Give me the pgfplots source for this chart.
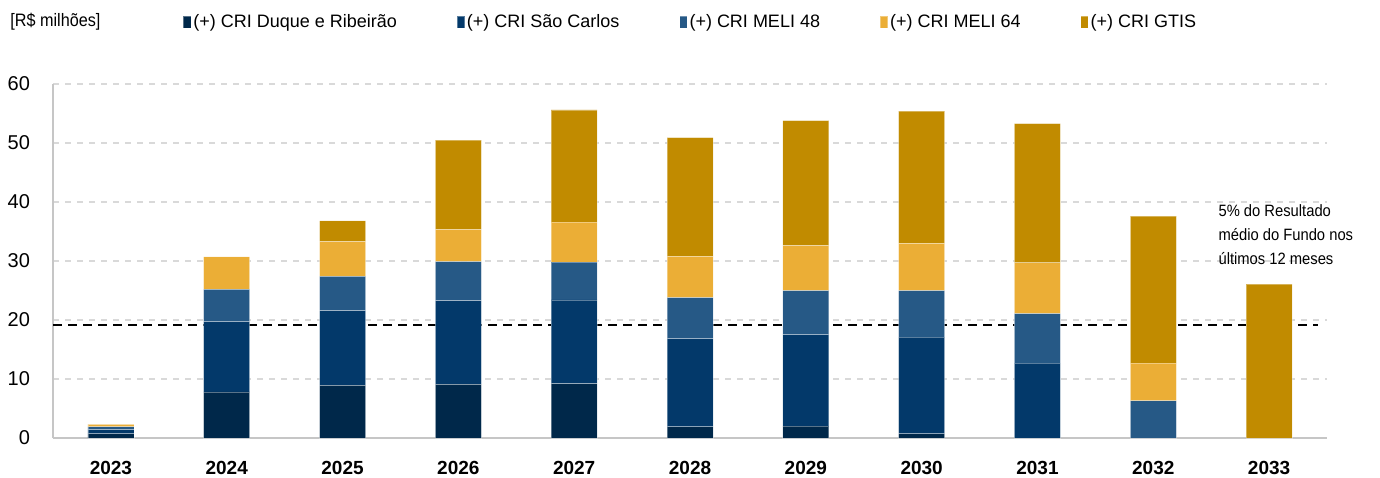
\documentclass[border=0pt]{standalone}
\usepackage{fontspec}
\setmainfont{Liberation Sans}
\newfontfamily\narrow{Liberation Sans}[FakeStretch=0.9]
\usepackage{pgfplots}
\pgfplotsset{compat=1.18}

\definecolor{duque}{HTML}{00284A}
\definecolor{saocarlos}{HTML}{03396A}
\definecolor{melia}{HTML}{265986}
\definecolor{melib}{HTML}{EBAE36}
\definecolor{gtis}{HTML}{C18B00}

% columns: 2023 ... 2033 at x = 0 ... 10
\pgfplotstableread{
x duque sc meli48 meli64 gtis
0  0.7  0.7  0.5 0.4  0.0
1  7.8 11.9  5.5 5.5  0.0
2  8.9 12.7  5.8 5.9  3.5
3  9.1 14.2  6.6 5.4 15.2
4  9.2 14.2  6.4 6.8 19.0
5  1.9 14.9  7.0 7.0 20.1
6  2.0 15.5  7.5 7.6 21.2
7  0.7 16.4  7.9 8.0 22.4
8  0.0 12.7  8.4 8.6 23.6
9  0.0  0.0  6.3 6.4 24.9
10 0.0  0.0  0.0 0.0 26.1
}\crdata

\begin{document}
\begin{tikzpicture}
\useasboundingbox (-26.5pt,-19.5pt) rectangle (663.5pt,219pt);
\begin{axis}[
    scale only axis,
    width=637pt, height=177pt,
    ybar stacked,
    bar width=23pt,
    xmin=-0.5, xmax=10.5,
    ymin=0, ymax=60,
    clip=false,
    axis x line*=bottom,
    axis y line*=left,
    axis line style={-, gray!45, line width=0.8pt},
    major tick length=0pt,
    xtick={0,...,10},
    xticklabels={2023,2024,2025,2026,2027,2028,2029,2030,2031,2032,2033},
    xticklabel style={font=\fontsize{9.5}{11}\selectfont\bfseries, anchor=center, yshift=-15pt},
    ytick={0,10,...,60},
    yticklabel style={font=\fontsize{10}{12}\selectfont, xshift=-8pt},
    /pgf/number format/assume math mode=true,
    ymajorgrids,
    grid style={gray!30, line width=0.7pt, dash pattern=on 3pt off 3pt},
    every axis plot/.append style={draw=white, draw opacity=0.35, line width=0.4pt},
    legend columns=5,
    legend cell align=left,
    legend style={draw=none, fill=none, at={(0.097,1.175)}, anchor=west,
        font=\fontsize{9}{11}\selectfont,
        nodes={inner xsep=1pt},
        /tikz/every even column/.append style={column sep=28.8pt}},
    legend image code/.code={\fill[#1] (0pt,-3pt) rectangle (3.8pt,3pt);},
]
\addplot[fill=duque] table[x=x,y=duque] {\crdata};
\addlegendentry{(+) CRI Duque e Ribeirão}
\addplot[fill=saocarlos] table[x=x,y=sc] {\crdata};
\addlegendentry{(+) CRI São Carlos}
\addplot[fill=melia] table[x=x,y=meli48] {\crdata};
\addlegendentry{(+) CRI MELI 48}
\addplot[fill=melib] table[x=x,y=meli64] {\crdata};
\addlegendentry{(+) CRI MELI 64}
\addplot[fill=gtis] table[x=x,y=gtis] {\crdata};
\addlegendentry{(+) CRI GTIS}

\draw[black, line width=1.2pt, dash pattern=on 4.5pt off 3pt] (axis cs:-0.5,19.2) -- (axis cs:10.42,19.2);
\node[anchor=north west, inner sep=0pt, align=left, font=\narrow\fontsize{8.2}{12}\selectfont]
    at (axis cs:9.56,39.6) {5\% do Resultado\\médio do Fundo nos\\últimos 12 meses};
\end{axis}
\node[anchor=west, inner sep=0pt, font=\narrow\fontsize{9}{11}\selectfont] at (-21.5pt,208pt) {[R\$ milhões]};
\end{tikzpicture}
\end{document}
